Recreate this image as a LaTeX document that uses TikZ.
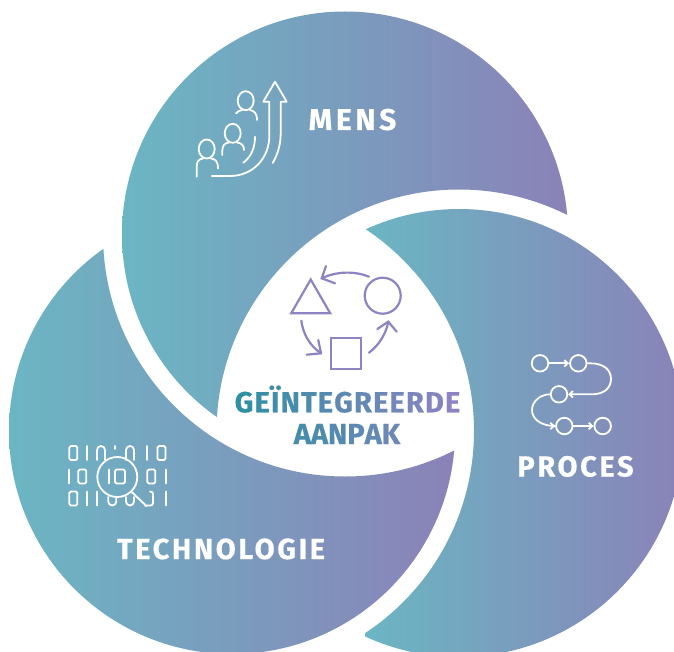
\documentclass[tikz,border=0pt]{standalone}
\usepackage{fontspec}
\setmainfont{Fira Sans}[UprightFont=* SemiBold,BoldFont=* Bold]
\usetikzlibrary{arrows.meta,shapes.geometric}
\definecolor{gteal}{HTML}{6BB6C3}
\definecolor{gpurple}{HTML}{8A82B8}
\definecolor{tteal}{HTML}{2F8FA3}
\definecolor{tpurple}{HTML}{8C84C2}
\definecolor{ipurple}{HTML}{8F84C2}
\newfontfamily\lblfont{Fira Sans}[UprightFont=* Bold,LetterSpace=9,FakeBold=0.4]
\newfontfamily\wlblfont{Fira Sans}[UprightFont=* Bold,LetterSpace=12.5,FakeBold=0.4]
\newcommand{\gl}[2]{\textcolor{tpurple!#1!tteal}{#2}}
\newcommand{\gk}[2]{\textcolor{tpurple!#1!tteal}{#2}\kern1.15pt}
\tikzset{
  x=1pt,y=-1pt,
  lbl/.style={text=white,font=\lblfont\fontsize{29}{29}\selectfont,inner sep=0pt,anchor=base},
  glbl/.style={font=\lblfont\fontsize{29}{29}\selectfont,inner sep=0pt,anchor=base},
  wline/.style={draw=white,line width=1.8pt,line cap=round,line join=round},
  pline/.style={draw=ipurple,line width=2.2pt,line cap=round,line join=miter},
  pshape/.style={draw=ipurple,line width=2.2pt,inner sep=0pt},
  pnode/.style={circle,draw=white,line width=1.8pt,minimum size=16.5pt,inner sep=0pt},
  parrow/.style={wline,-{Straight Barb[length=3.5pt,width=6.5pt]}},
}
\begin{document}
\begin{tikzpicture}
\useasboundingbox (0,0) rectangle (674,652);
\clip (0,0) rectangle (674,652);
\fill[white] (0,0) rectangle (674,652);
\coordinate (ct) at (345,234.5);
\coordinate (cl) at (232,431);
\coordinate (cr) at (459,433);
\coordinate (rr) at (459,432);
% top disc
\begin{scope}[even odd rule]
  \clip (ct) circle (223pt);
  \clip (-10,-10) rectangle (800,800) (rr) circle (242.5pt);
  \shade[left color=gteal,right color=gpurple] (122,0) rectangle (568,500);
\end{scope}
% left disc
\begin{scope}[even odd rule]
  \clip (cl) circle (223pt);
  \clip (-10,-10) rectangle (800,800) (ct) circle (242pt);
  \shade[left color=gteal,right color=gpurple] (9,200) rectangle (455,660);
\end{scope}
% right disc
\begin{scope}[even odd rule]
  \clip (cr) circle (224pt);
  \clip (-10,-10) rectangle (800,800) (cl) circle (242pt);
  \shade[left color=gteal,right color=gpurple] (365,200) rectangle (684,660);
\end{scope}
% labels
\node[lbl,font=\wlblfont\fontsize{30}{30}\selectfont] (mens) at (352.5,130) {MENS};
\node[lbl] (proces) at (575.5,476.5) {PROCES};
\node[lbl] (tech) at (221,559) {TECHNOLOGIE};
\node[glbl] (gei) at (347.5,412.3) {\gk{0}{G}\gk{9}{E}\gk{17}{Ï}\gk{25}{N}\gk{33}{T}\gk{41}{E}\gk{50}{G}\gk{58}{R}\gk{66}{E}\gk{74}{E}\gk{82}{R}\gk{91}{D}\gl{100}{E}};
\node[glbl] (aan) at (347,444) {\gl{25}{A}\gl{33}{A}\gl{41}{N}\gl{50}{P}\gl{58}{A}\gl{66}{K}};
% mens icon
\draw[wline] (206.7,149) ellipse (8 and 9.5);
\draw[wline] (196.7,176.7) -- (196.7,167) .. controls (196.7,161) and (199,159) .. (203,158.5);
\draw[wline] (211,158.5) .. controls (215,159) and (218,161) .. (218,168.5);
\draw[wline] (232.7,133.3) ellipse (8 and 9.5);
\draw[wline] (222.3,155) -- (222.3,151) .. controls (222.3,145) and (225,143) .. (229,142.5);
\draw[wline] (237,142.5) .. controls (241,143) and (244,145) .. (244,150);
\draw[wline] (245.7,100.7) ellipse (8 and 9.5);
\draw[wline] (236,113.5) .. controls (237,111.5) and (239,110.8) .. (242,110);
\draw[wline] (250,110) .. controls (254,110.8) and (257,113) .. (257,120);
\draw[wline] (243.3,162.7) .. controls (251,157) and (255,148) .. (255,136.7);
\draw[wline] (211.7,176) -- (230,176) .. controls (253,176) and (269.3,158) .. (269.3,136) -- (269.3,101.7) -- (263.3,101.7) -- (275,81.7) -- (286.7,101.7) -- (280.7,101.7) -- (280.7,133) .. controls (280.7,144) and (278,154) .. (272.7,163);
% proces icon
\node[pnode] (p1) at (540,363.3) {};
\node[pnode] (p2) at (578.3,363.3) {};
\node[pnode] (p3) at (559,394.3) {};
\node[pnode] (p4) at (564.3,426) {};
\node[pnode] (p5) at (602.7,426) {};
\draw[parrow] (p1) -- (p2);
\draw[parrow] (p2.east) -- (590,363.3) .. controls (604,363.3) and (611,370) .. (611,379) .. controls (611,388) and (604,394.3) .. (592,394.3) -- (p3.east);
\draw[parrow] (p3.west) .. controls (541,394.3) and (532,401) .. (532,410) .. controls (532,419) and (541,426) .. (555,426) -- (p4.west);
\draw[parrow] (p4) -- (p5);
% aanpak icon
\node[regular polygon,regular polygon sides=3,pshape,minimum size=45pt] (tri) at (310.7,302) {};
\node[circle,pshape,minimum size=36pt] (circ) at (382.7,295.7) {};
\node[rectangle,pshape,minimum size=30.3pt] (sq) at (346,353.5) {};
\coordinate (a1) at (369,276.7);
\coordinate (a2) at (321.7,278.3);
\draw[pline] (a1) .. controls (355,271) and (337,271) .. (a2);
\draw[pline] (326,266) -- (a2) -- (335,283.3);
\coordinate (b1) at (301.3,320.7);
\coordinate (b2) at (321,353.3);
\draw[pline] (b1) .. controls (303,334) and (310,346) .. (b2);
\draw[pline] (318.3,340) -- (b2) -- (306.7,354.7);
\coordinate (c1) at (369,352.7);
\coordinate (c2) at (388.3,321.7);
\draw[pline] (c1) .. controls (379,345) and (386,334) .. (c2);
\draw[pline] (377.3,329) -- (c2) -- (396.7,331.7);
% technologie icon
\draw[wline] (117.3,477) circle (20);
\draw[wline] (131.7,492) -- (146.7,506.3);
\foreach \xa/\ya in {69.3/446,157.5/446,78.3/469.5,147.3/469.5,69.3/491.5}{
  \draw[wline,rounded corners=1.5pt] (\xa,\ya) rectangle ++(8,14);
}
\draw[wline,rounded corners=1.5pt] (115,469.5) rectangle ++(10,14);
\foreach \xa/\ya in {87.3/446,146.7/446,69/469.5,109/469.5,165.7/469.5,87.3/491.5,97.3/491.5,165.7/491.5}{
  \draw[wline] (\xa,\ya) -- ++(0,14);
}
\draw[wline] (115,446) -- (115,449);
\draw[wline] (97,460) -- (97,450) arc (180:360:4) -- (105,460);
\draw[wline] (126,460) -- (126,450) arc (180:360:4) -- (134,460);
\draw[wline] (108.3,497) -- (108.3,501.5) arc (180:0:4) -- (116.3,497);
\draw[wline] (126,497) -- (126,501.5) arc (180:0:4) -- (134,497);
\draw[wline] (145,505.5) -- (150.5,505.5) .. controls (152,505.5) and (153,504.5) .. (153,503) -- (153,494) .. controls (153,492.5) and (152,491.5) .. (150,491.5);
\end{tikzpicture}
\end{document}
